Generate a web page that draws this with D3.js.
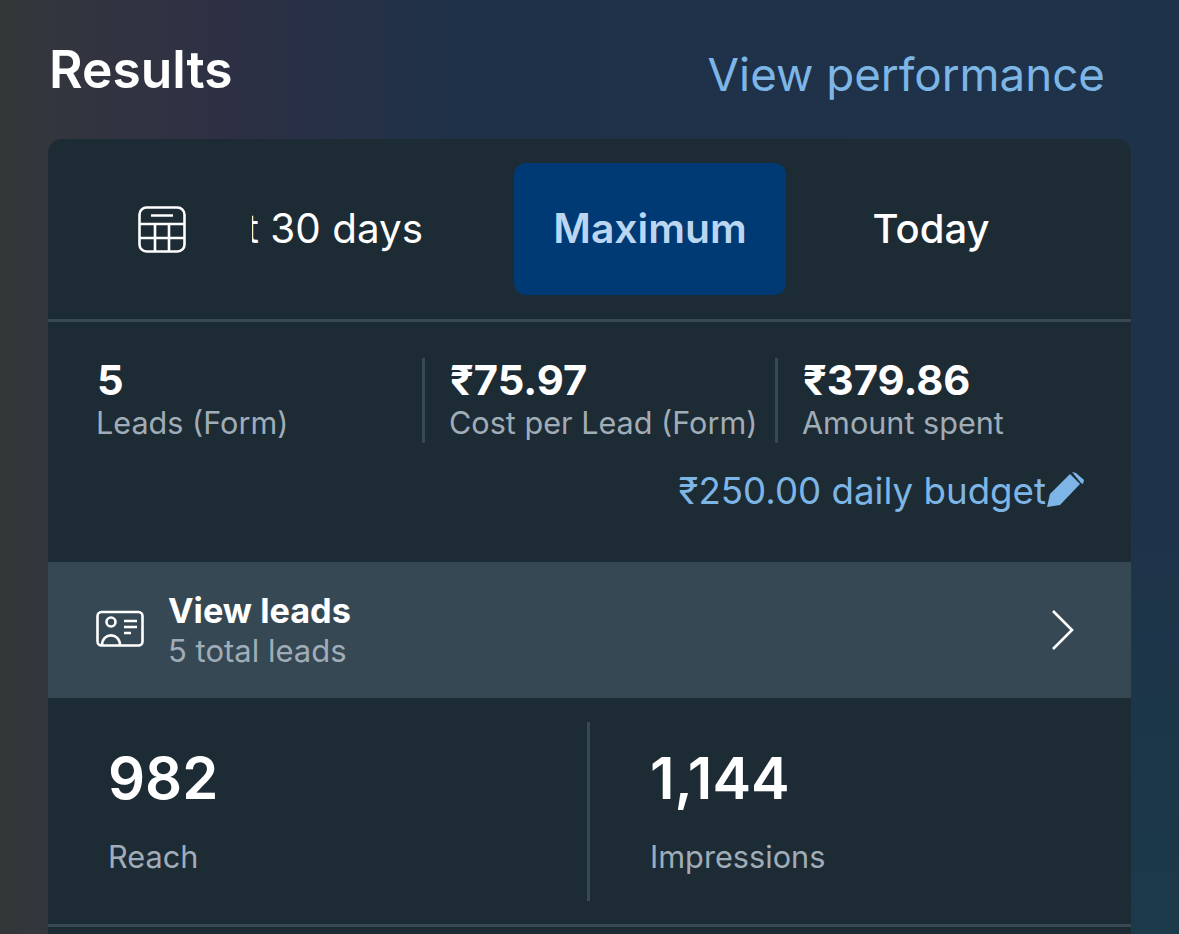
<!DOCTYPE html>
<html>
<head>
<meta charset="utf-8">
<script src="https://cdn.jsdelivr.net/npm/d3@7"></script>
<style>
  html, body { margin: 0; padding: 0; background: #1e3248; overflow: hidden; }
  svg { display: block; }
  text { font-family: Inter, "Noto Sans", sans-serif; }
</style>
</head>
<body>
<script>
// values
var tabLabels = ["Last 30 days", "Maximum", "Today"];
var summaryValues = ["5", "₹75.97", "₹379.86"];
var summaryLabels = ["Leads (Form)", "Cost per Lead (Form)", "Amount spent"];
var budgetLabel = "₹250.00 daily budget";
var leadsTitle = "View leads";
var leadsSub = "5 total leads";
var totalValues = ["982", "1,144"];
var totalLabels = ["Reach", "Impressions"];

var width = 1179, height = 934;
var white = "#ffffff", grey = "#a0adb8", blue = "#7db6e6",
    card = "#1d2b34", line = "#384855", rowBg = "#364854";

var svg = d3.select("body").append("svg")
    .attr("width", width)
    .attr("height", height);

// background gradient behind the card
var defs = svg.append("defs");
var grad = defs.append("linearGradient").attr("id", "bg")
    .attr("x1", "0").attr("x2", "1").attr("y1", "0").attr("y2", "0");
[[0, "#343738"], [0.04, "#33363d"], [0.2, "#2d3044"], [0.38, "#1f3148"], [1, "#1e3249"]]
  .forEach(function(d) {
    grad.append("stop").attr("offset", d[0]).attr("stop-color", d[1]);
  });
var rightGrad = defs.append("linearGradient").attr("id", "bgRight")
    .attr("x1", "0").attr("x2", "0").attr("y1", "0").attr("y2", "1");
[[0, "#1e3249"], [0.5, "#1e3249"], [1, "#1b3a4a"]]
  .forEach(function(d) {
    rightGrad.append("stop").attr("offset", d[0]).attr("stop-color", d[1]);
  });
var clip = defs.append("clipPath").attr("id", "tabclip");
clip.append("rect").attr("x", 252).attr("y", 160).attr("width", 880).attr("height", 140);

svg.append("rect").attr("width", width).attr("height", height).attr("fill", "url(#bg)");
svg.append("rect").attr("x", 1131).attr("width", 48).attr("height", height).attr("fill", "url(#bgRight)");

function label(g, x, y, str, size, color, weight, anchor) {
  return g.append("text")
      .attr("x", x).attr("y", y)
      .attr("font-size", size)
      .attr("font-weight", weight || 400)
      .attr("fill", color)
      .attr("text-anchor", anchor || "start")
      .text(str);
}

// header
label(svg, 49, 88, "Results", 51.5, white, 600);
label(svg, 1105, 91, "View performance", 45.7, blue, 400, "end");

// card
svg.append("path")
    .attr("d", "M48,934V153a14,14 0 0 1 14,-14H1117a14,14 0 0 1 14,14V934Z")
    .attr("fill", card);

// tabs - first one is scrolled under the calendar icon
var tabs = svg.append("g").attr("clip-path", "url(#tabclip)");
svg.append("rect").attr("x", 514).attr("y", 163).attr("width", 272).attr("height", 132)
    .attr("rx", 12).attr("fill", "#003a75");
label(tabs, 423, 243, tabLabels[0], 40.4, white, 400, "end");
label(svg, 650, 243, tabLabels[1], 40.8, "#bcd6f2", 600, "middle");
label(svg, 931, 243, tabLabels[2], 40, white, 500, "middle");

// calendar icon
var cal = svg.append("g").attr("fill", "none").attr("stroke", white).attr("stroke-width", 2.6);
cal.append("rect").attr("x", 139.5).attr("y", 207.5).attr("width", 45).attr("height", 44).attr("rx", 7);
cal.append("path").attr("d", "M139.5,224H184.5M139.5,238H184.5M155,224V251M169,224V251M151,215.5H173");

svg.append("rect").attr("x", 48).attr("y", 319).attr("width", 1083).attr("height", 3).attr("fill", line);

// summary row
var summaryX = d3.scaleOrdinal().domain(summaryLabels).range([96, 449, 802]);
summaryLabels.forEach(function(d, i) {
  label(svg, summaryX(d) + 1, 395, summaryValues[i], 41.7, white, 700);
  label(svg, summaryX(d), 434, d, 30.6, grey);
  if (i > 0) {
    svg.append("rect").attr("x", summaryX(d) - 27).attr("y", 358)
        .attr("width", 3).attr("height", 85).attr("fill", line);
  }
});

// budget + pencil
label(svg, 1046, 504, budgetLabel, 36.7, blue, 400, "end");
svg.append("path")
    .attr("d", "M1047,507L1050,494L1070,474L1080,484L1060,505Z")
    .attr("fill", blue);
svg.append("path")
    .attr("d", "M1072,472L1076,473L1084,480L1083,484L1081,483Z")
    .attr("fill", blue);

// view leads row
svg.append("rect").attr("x", 48).attr("y", 562).attr("width", 1083).attr("height", 136).attr("fill", rowBg);
label(svg, 168, 623, leadsTitle, 34.3, white, 700);
label(svg, 168, 662, leadsSub, 31, grey);

var idIcon = svg.append("g").attr("fill", "none").attr("stroke", white).attr("stroke-width", 2.6);
idIcon.append("rect").attr("x", 97.5).attr("y", 612).attr("width", 45).attr("height", 33.5).attr("rx", 4);
idIcon.append("circle").attr("cx", 111).attr("cy", 622).attr("r", 4.5);
idIcon.append("path").attr("d", "M102,645.5C102,632 120,632 120,645.5M124,621H137M124,627H137M124,633H131");

svg.append("path")
    .attr("d", "M1053,611L1072,630L1053,649")
    .attr("fill", "none").attr("stroke", white).attr("stroke-width", 2.6);

// reach / impressions
var totalX = d3.scaleOrdinal().domain(totalLabels).range([108, 650]);
totalLabels.forEach(function(d, i) {
  label(svg, totalX(d), 799, totalValues[i], 58, white, 600);
  label(svg, totalX(d), 868, d, 30.7, grey);
});
svg.append("rect").attr("x", 587).attr("y", 722).attr("width", 3).attr("height", 179).attr("fill", line);
svg.append("rect").attr("x", 48).attr("y", 924).attr("width", 1083).attr("height", 3).attr("fill", line);
</script>
</body>
</html>
